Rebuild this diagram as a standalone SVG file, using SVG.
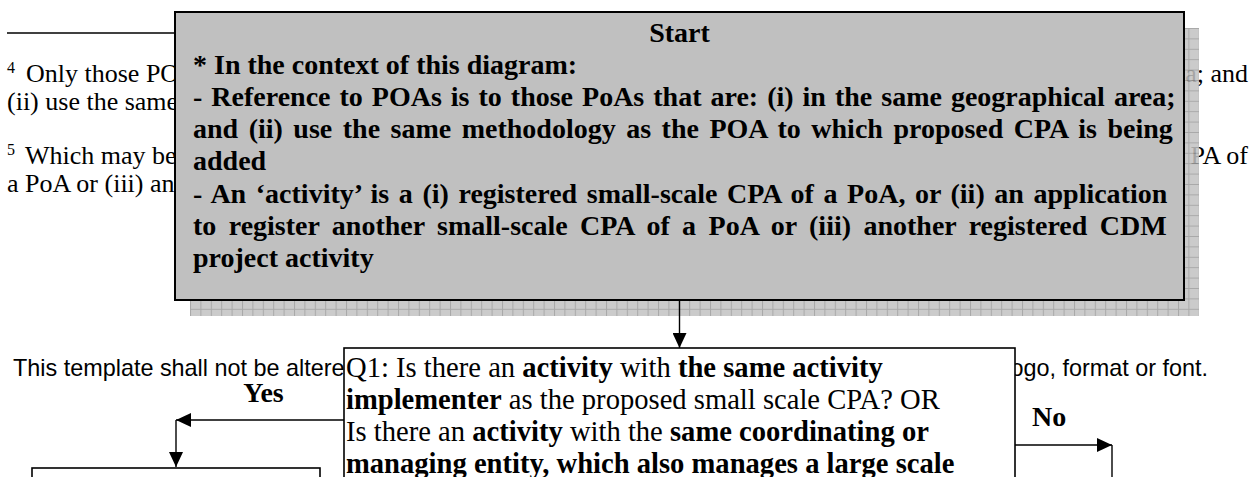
<svg xmlns="http://www.w3.org/2000/svg" width="1255" height="477" viewBox="0 0 1255 477">
  <style>
    .serif { font-family: "Liberation Serif", "Times New Roman", serif; fill: #000; }
    .sans { font-family: "Liberation Sans", Arial, sans-serif; fill: #000; }
    .note { font-size: 26px; }
    .sup { font-size: 16px; }
    .boxtxt { font-size: 28px; font-weight: bold; }
    .qtxt { font-size: 28.6px; }
    .lbl { font-size: 28px; font-weight: bold; }
    .frame { fill: #fff; stroke: #000; stroke-width: 1.6; }
    .conn { fill: none; stroke: #000; stroke-width: 1.4; }
  </style>
  <defs>
    <pattern id="grid" x="190" y="28" width="10.4" height="10.4" patternUnits="userSpaceOnUse">
      <rect width="10.4" height="10.4" fill="#c2c2c2"/>
      <path d="M0.5,0 V10.4 M0,0.5 H10.4" stroke="#999" stroke-width="1"/>
    </pattern>
    <marker id="arrow" markerUnits="userSpaceOnUse" markerWidth="16" markerHeight="14" refX="15" refY="7" orient="auto">
      <path d="M0,0 L15,7 L0,14 z" fill="#000"/>
    </marker>
  </defs>

  <rect width="1255" height="477" fill="#fff"/>

  <!-- page background: footnotes and template notice -->
  <g id="page-text">
    <line x1="7" y1="33" x2="176" y2="33" stroke="#000" stroke-width="1.3"/>
    <text class="serif sup" x="7" y="73">4</text>
    <text class="serif note" x="26" y="82">Only those PO</text>
    <text class="serif note" x="1248" y="82" text-anchor="end">ea; and</text>
    <text class="serif note" x="7" y="110">(ii) use the same</text>
    <text class="serif sup" x="7" y="155">5</text>
    <text class="serif note" x="25" y="164">Which may be</text>
    <text class="serif note" x="1248" y="164" text-anchor="end">PA of</text>
    <text class="serif note" x="7" y="192">a PoA or (iii) an</text>
    <text class="sans" font-size="23.4" x="13" y="376">This template shall not be altere</text>
    <text class="sans" font-size="23.4" x="1208" y="376" text-anchor="end">ogo, format or font.</text>
  </g>

  <!-- start box with hatched drop shadow -->
  <g id="start">
    <rect x="190" y="28" width="1009" height="288" fill="url(#grid)" opacity="0.85"/>
    <rect x="175" y="12" width="1009" height="288" fill="#c0c0c0" stroke="#000" stroke-width="2"/>
    <text class="serif boxtxt" x="679.5" y="42" text-anchor="middle">Start</text>
    <text class="serif boxtxt" x="193" y="74">* In the context of this diagram:</text>
    <text class="serif boxtxt" x="193" y="106" word-spacing="2">- Reference to POAs is to those PoAs that are: (i) in the same geographical area;</text>
    <text class="serif boxtxt" x="193" y="138" word-spacing="3.5">and (ii) use the same methodology as the POA to which proposed CPA is being</text>
    <text class="serif boxtxt" x="193" y="170">added</text>
    <text class="serif boxtxt" x="193" y="203" word-spacing="2.6">- An ‘activity’ is a (i) registered small-scale CPA of a PoA, or (ii) an application</text>
    <text class="serif boxtxt" x="193" y="235" word-spacing="5.4">to register another small-scale CPA of a PoA or (iii) another registered CDM</text>
    <text class="serif boxtxt" x="193" y="267">project activity</text>
  </g>

  <!-- question 1 -->
  <g id="q1">
    <rect class="frame" x="344" y="348" width="671" height="140"/>
    <text class="serif qtxt" x="346" y="377">Q1: Is there an <tspan font-weight="bold">activity</tspan> with <tspan font-weight="bold">the same activity</tspan></text>
    <text class="serif qtxt" x="346" y="409"><tspan font-weight="bold">implementer</tspan> as the proposed small scale CPA? OR</text>
    <text class="serif qtxt" x="346" y="441">Is there an <tspan font-weight="bold">activity</tspan> with the <tspan font-weight="bold">same coordinating or</tspan></text>
    <text class="serif qtxt" x="346" y="473" font-weight="bold">managing entity, which also manages a large scale</text>
  </g>

  <!-- outcome box for the Yes branch -->
  <g id="yes-box">
    <rect class="frame" x="32" y="468" width="288" height="40"/>
  </g>

  <!-- connectors and their labels -->
  <g id="connectors">
    <path class="conn" d="M679.5,301 V348" marker-end="url(#arrow)"/>
    <path class="conn" d="M344,420 H176" marker-end="url(#arrow)"/>
    <path class="conn" d="M176,420 V467" marker-end="url(#arrow)"/>
    <path class="conn" d="M1015,445 H1112" marker-end="url(#arrow)"/>
    <path class="conn" d="M1112,445 V480"/>
    <text class="serif lbl" x="263.5" y="402" text-anchor="middle">Yes</text>
    <text class="serif lbl" x="1032" y="426">No</text>
  </g>
</svg>
